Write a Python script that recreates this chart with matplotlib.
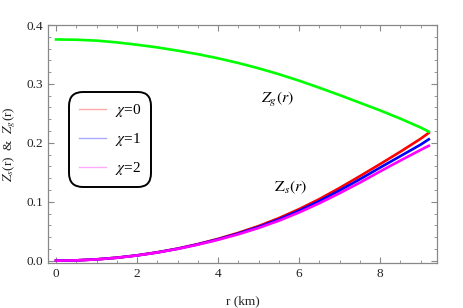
import matplotlib
matplotlib.use("Agg")
import matplotlib.pyplot as plt
from matplotlib.ticker import MultipleLocator

# values
r = [0.0, 0.5, 1.0, 1.5, 2.0, 2.5, 3.0, 3.5, 4.0, 4.5, 5.0, 5.5, 6.0, 6.5,
     7.0, 7.5, 8.0, 8.5, 9.0, 9.2]
zg = [0.3755, 0.3750, 0.3735, 0.3705, 0.3665, 0.3620, 0.3565, 0.3505, 0.3435, 0.3355,
      0.3265, 0.3165, 0.3055, 0.2935, 0.2810, 0.2680, 0.2550, 0.2410, 0.2260, 0.2190]
zs_chi0 = [0.0, 0.0005, 0.0022, 0.0050, 0.0090, 0.0142, 0.0205, 0.0281, 0.0370, 0.0472,
           0.0588, 0.0722, 0.0875, 0.1045, 0.1235, 0.1435, 0.1640, 0.1850, 0.2070, 0.2170]
zs_chi1 = [0.0, 0.0005, 0.0022, 0.0050, 0.0089, 0.0140, 0.0202, 0.0277, 0.0362, 0.0460,
           0.0572, 0.0700, 0.0848, 0.1012, 0.1192, 0.1382, 0.1580, 0.1775, 0.1970, 0.2060]
zs_chi2 = [0.0, 0.0005, 0.0021, 0.0049, 0.0088, 0.0138, 0.0199, 0.0272, 0.0354, 0.0448,
           0.0555, 0.0678, 0.0818, 0.0975, 0.1145, 0.1325, 0.1515, 0.1700, 0.1880, 0.1950]
chi_labels = [r"$\chi$=0", r"$\chi$=1", r"$\chi$=2"]

plt.rcParams["font.family"] = "Liberation Serif"
plt.rcParams["mathtext.fontset"] = "stix"

fig = plt.figure(figsize=(4.63, 3.08), dpi=100)
ax = fig.add_axes([0.1043, 0.1451, 0.8402, 0.7737])

ax.plot(r, zs_chi0, color=(1, 0, 0), lw=1.9, label=chi_labels[0])
ax.plot(r, zs_chi1, color=(0, 0, 1), lw=1.9, label=chi_labels[1])
ax.plot(r, zs_chi2, color=(1, 0, 1), lw=1.9, label=chi_labels[2])
ax.plot(r, zg, color=(0, 1, 0), lw=1.9)

ax.set_xlim(-0.19, 9.41)
ax.set_ylim(-0.0045, 0.4)

ax.xaxis.set_major_locator(MultipleLocator(2))
ax.xaxis.set_minor_locator(MultipleLocator(0.5))
ax.yaxis.set_major_locator(MultipleLocator(0.1))
ax.yaxis.set_minor_locator(MultipleLocator(0.02))
ax.yaxis.set_major_formatter(matplotlib.ticker.FormatStrFormatter("%.1f"))
ax.tick_params(which="both", direction="in", top=True, right=True,
               color="#888888", labelsize=9.5, labelcolor="#222222")
ax.tick_params(which="major", length=4.5, width=0.8)
ax.tick_params(which="minor", length=2.5, width=0.6)
for s in ax.spines.values():
    s.set_color("#888888")
    s.set_linewidth(0.9)

ax.set_xlabel("r (km)", fontsize=9.5, color="#222222", labelpad=11)
ax.set_ylabel(r"$Z_s$(r)  &  $Z_g$(r)", fontsize=9.5, color="#222222", labelpad=6)

ax.text(5.46, 0.273, r"$Z_g(r)$", fontsize=11.5, ha="center", va="center")
ax.text(5.8, 0.124, r"$\mathrm{Z}_s(r)$", fontsize=11.5, ha="center", va="center")

leg = ax.legend(loc="upper left", bbox_to_anchor=(0.054, 0.717), borderaxespad=0,
                fontsize=11, handlelength=1.75, handletextpad=0.6, labelspacing=0.78,
                borderpad=0.65, fancybox=True, framealpha=1, edgecolor="black")
leg.get_frame().set_linewidth(1.4)
leg.get_frame().set_boxstyle("round", pad=0, rounding_size=0.9)
for h, c in zip(leg.get_lines(), ["#ffaaaa", "#aaaaff", "#ffaaff"]):
    h.set_linewidth(1.0)
    h.set_color(c)

fig.savefig("out.png", dpi=100)
